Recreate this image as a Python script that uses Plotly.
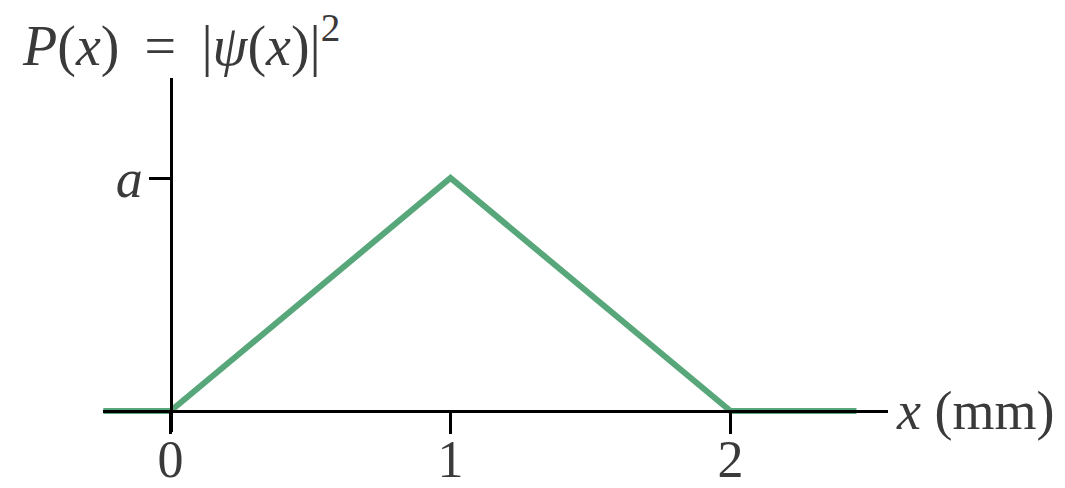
import plotly.graph_objects as go

# Probability density P(x) = |psi(x)|^2, piecewise linear (x in mm, P in units of a)
x_mm = [-0.24, 0, 1, 2, 2.45]
p_val = [0, 0, 1, 0, 0]

x_tick_vals = [0, 1, 2]
x_tick_text = ["0", "1", "2"]
y_tick_vals = [1]
y_tick_text = ["<i>a</i>"]

W, H = 1065, 488
left, right, top, bottom = 103, 888, 78, 432
x_range = [-0.2411, 2.5625]
y_range = [-0.0901, 1.4292]

def frac(v, rng):
    return (v - rng[0]) / (rng[1] - rng[0])

serif = "Liberation Serif, Times New Roman, serif"
text_col = "#3a3a3a"
green = "rgb(88,167,122)"

fig = go.Figure()
fig.add_trace(go.Scatter(
    x=x_mm, y=p_val, mode="lines",
    line=dict(color=green, width=6),
    hoverinfo="skip", showlegend=False,
))

axis_common = dict(
    showgrid=False, zeroline=False, showline=True, linecolor="black", linewidth=3,
    ticks="outside", ticklen=21, tickwidth=3, tickcolor="black",
    anchor="free", automargin=False,
)

nb = "\u2009"
fig.update_layout(
    width=W, height=H,
    margin=dict(l=left, r=W - right, t=top, b=H - bottom),
    paper_bgcolor="white", plot_bgcolor="white",
    xaxis=dict(range=x_range, tickvals=x_tick_vals, ticktext=x_tick_text,
               position=frac(0, y_range), ticklabelstandoff=-19,
               tickfont=dict(family=serif, size=52, color=text_col), **axis_common),
    yaxis=dict(range=y_range, tickvals=y_tick_vals, ticktext=y_tick_text,
               position=frac(0, x_range), ticklabelstandoff=-5,
               tickfont=dict(family=serif, size=54, color=text_col), **axis_common),
    annotations=[
        dict(text=f"<i>P</i>(<i>x</i>){nb} = {nb}|<i>ψ</i>(<i>x</i>)|<sup>2</sup>",
             xref="paper", yref="paper", x=-0.106, y=(bottom - 42) / (bottom - top),
             xanchor="left", yanchor="middle",
             showarrow=False, font=dict(family=serif, size=56, color=text_col)),
        dict(text="<i>x</i> (mm)",
             xref="paper", yref="y", x=1.0, y=0, xanchor="left", yanchor="middle",
             xshift=6, showarrow=False, font=dict(family=serif, size=54, color=text_col)),
    ],
)

fig.write_html("out.html")
